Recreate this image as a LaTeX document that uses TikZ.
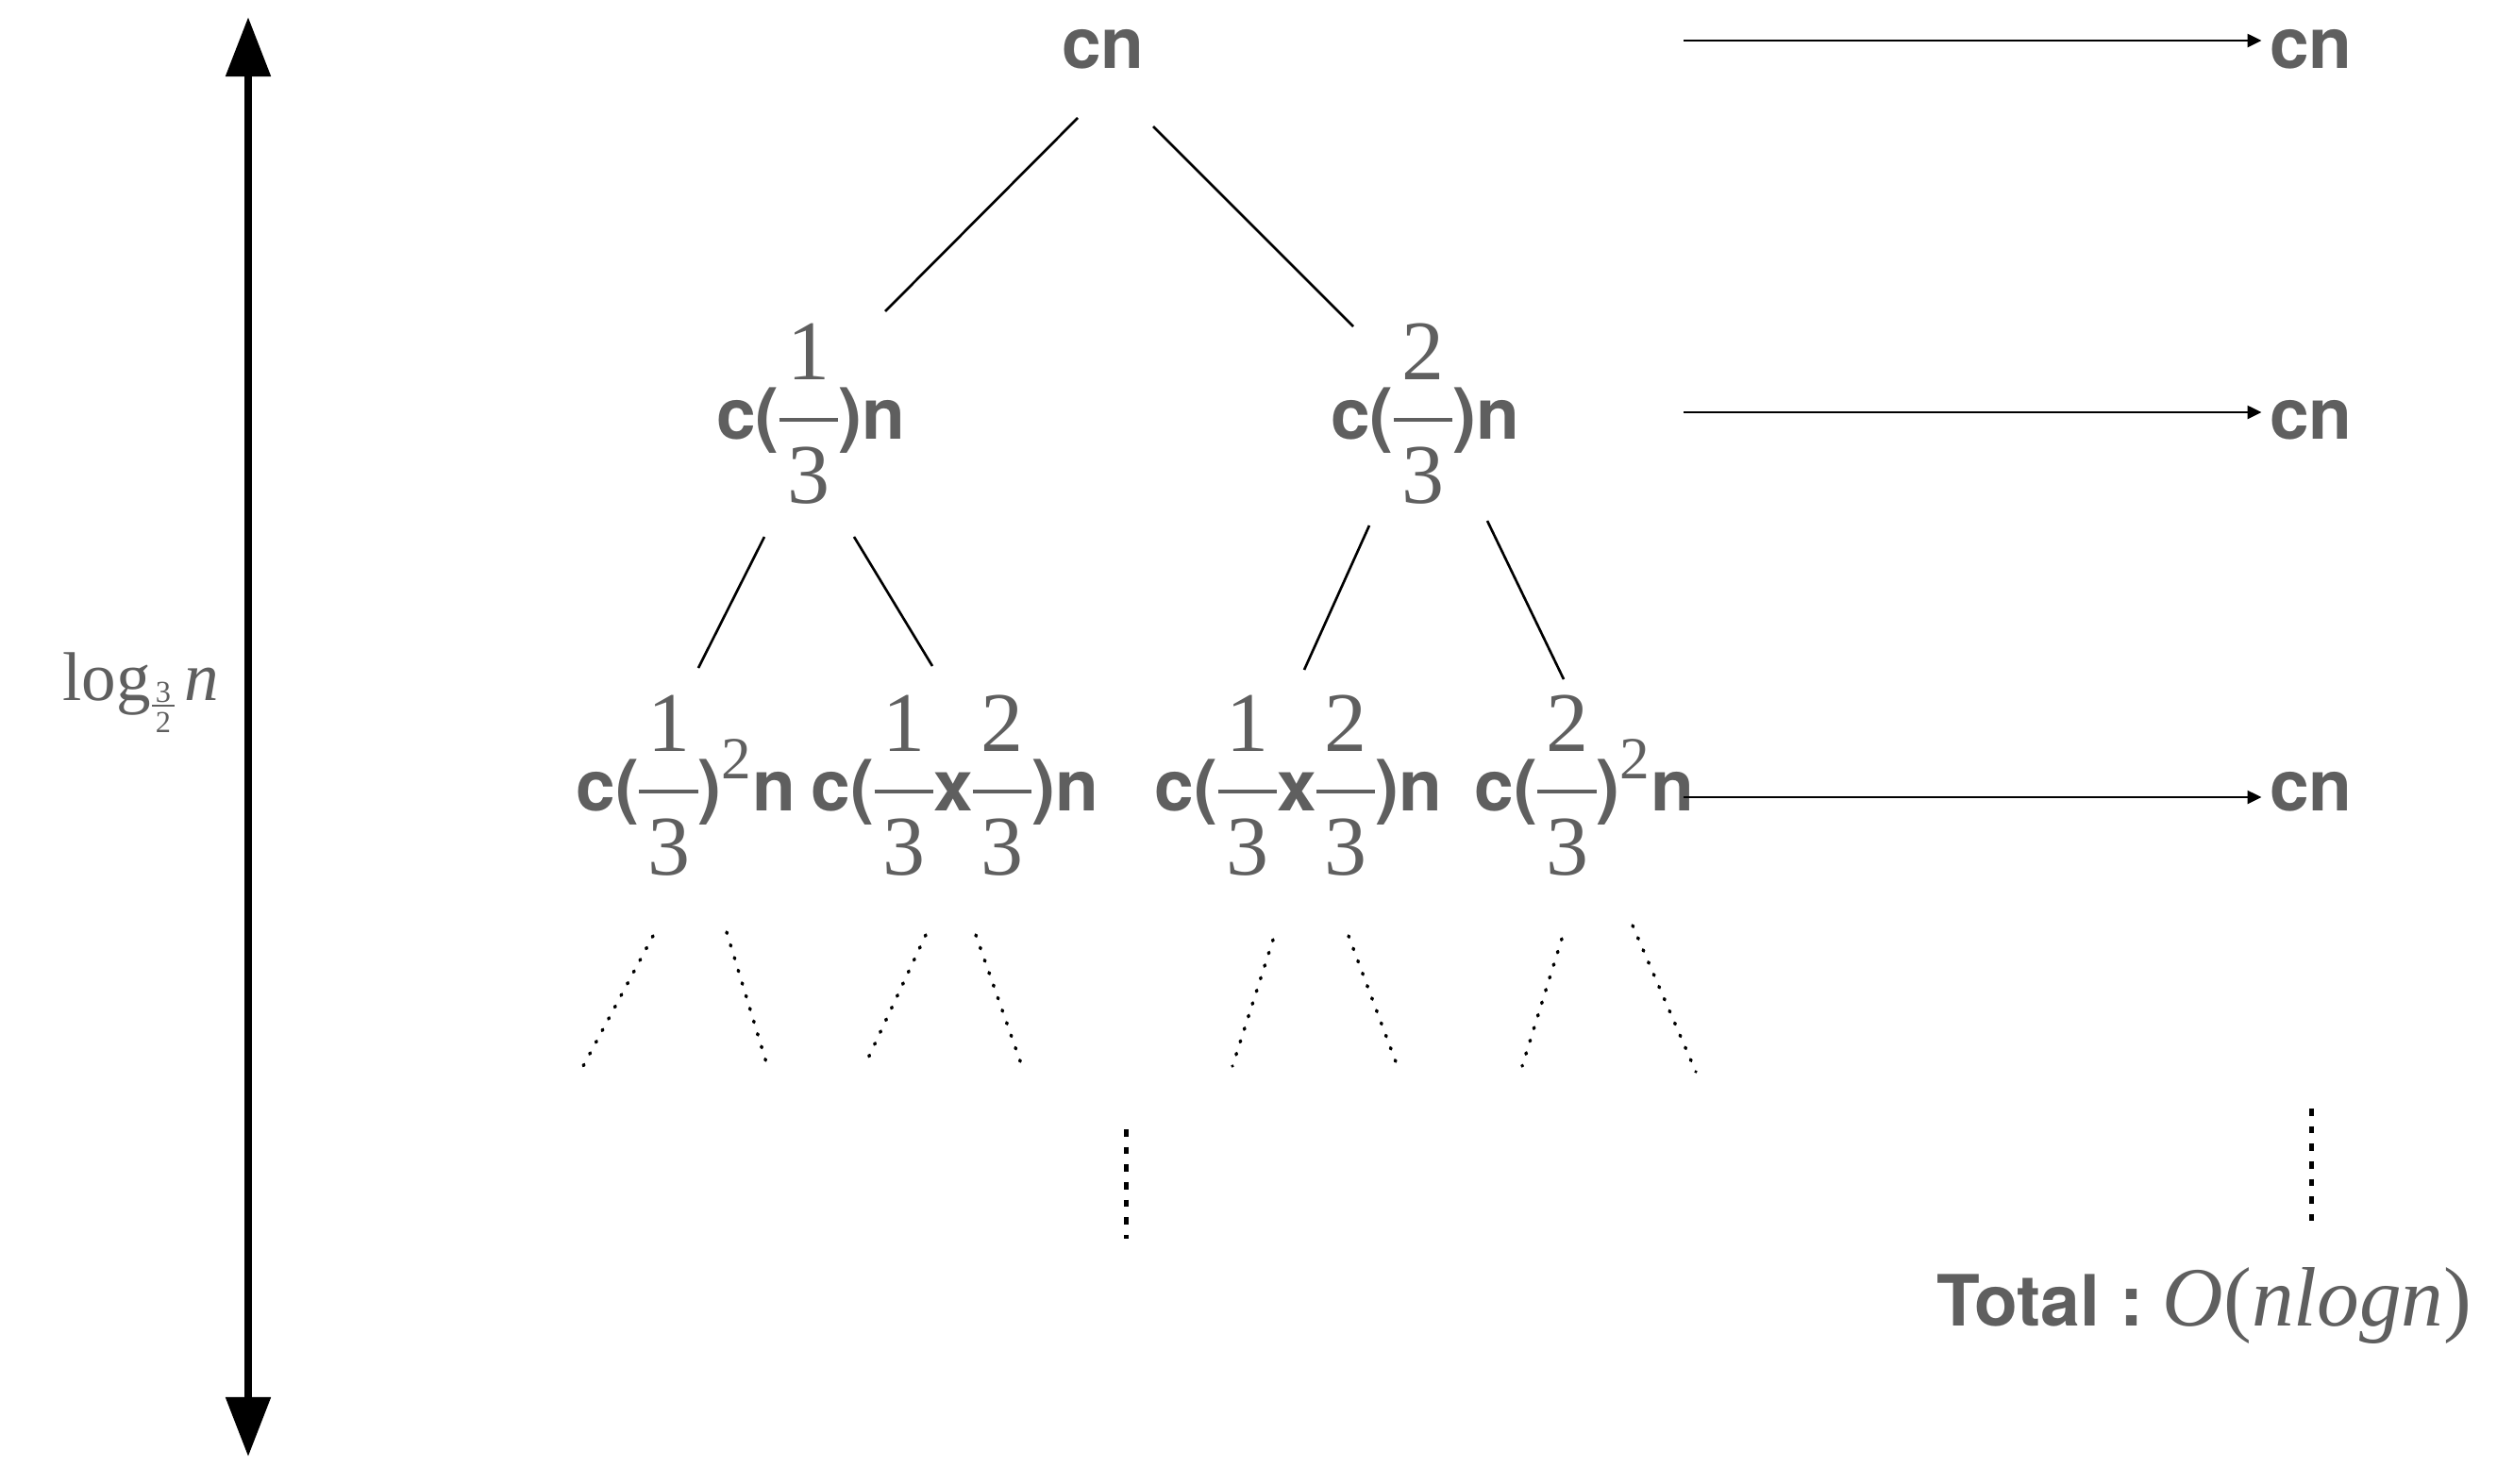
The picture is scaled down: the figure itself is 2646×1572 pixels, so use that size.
\documentclass[tikz,border=0pt]{standalone}
\usepackage{fontspec}
\usetikzlibrary{arrows.meta}
\newfontfamily\hv{TeX Gyre Heros}
\newfontfamily\tm{Liberation Serif}
\newcommand\rmd{\tm\mdseries\upshape}
\definecolor{tg}{HTML}{5F5F5F}
% large fraction (serif digits)
\newcommand\bigfr[2]{\raisebox{-19.35pt}{\fontsize{25.6}{28}\selectfont\rmd\vbox{\offinterlineskip\halign{\kern2.5pt\hfil##\hfil\kern2.5pt\cr #1\cr\noalign{\kern11.4pt\hrule height1.4pt\kern7.4pt}#2\cr}}}}
% small subscript fraction
\newcommand\smfr[2]{\raisebox{-9.67pt}{\fontsize{9.2}{9.5}\selectfont\rmd\vbox{\offinterlineskip\halign{\kern1pt\hfil##\hfil\kern1pt\cr #1\cr\noalign{\kern0.7pt\hrule height0.45pt\kern1.7pt}#2\cr}}}}
\newcommand\sqtwo{\raisebox{9.4pt}{\fontsize{18}{18}\selectfont\rmd 2}\kern0.3pt}
\begin{document}
\begin{tikzpicture}[x=0.01cm,y=-0.01cm,
  lbl/.style={text=tg, inner sep=0pt, anchor=base, font=\hv\bfseries\fontsize{21.3}{24}\selectfont},
  treeedge/.style={draw=black, line width=0.75pt},
  dotedge/.style={draw=black, line width=1pt, line cap=round, dash pattern=on 0.4pt off 3.6pt},
  vdash/.style={draw=black, line width=1.42pt, dash pattern=on 2.2pt off 3.1pt},
  rarr/.style={draw=black, line width=0.7pt, -{Triangle[length=0.15cm,width=0.14cm]}, shorten >=2.3pt},
  varr/.style={draw=black, line width=2.4pt, {Triangle[length=0.63cm,width=0.46cm]}-{Triangle[length=0.63cm,width=0.46cm]}}
]
\useasboundingbox (0,0) rectangle (2646,1572);

% tree nodes
\node[lbl] (root) at (1169,72) {cn};
\node[lbl] (l1) at (859,465) {c(\bigfr{1}{3})n};
\node[lbl] (r1) at (1510,465) {c(\bigfr{2}{3})n};
\node[lbl] (na) at (727,859) {c(\bigfr{1}{3})\sqtwo n};
\node[lbl] (nb) at (1012,859) {c(\bigfr{1}{3}x\bigfr{2}{3})n};
\node[lbl] (nc) at (1376,859) {c(\bigfr{1}{3}x\bigfr{2}{3})n};
\node[lbl] (nd) at (1679,859) {c(\bigfr{2}{3})\sqtwo n};

% right column
\node[lbl] (r0c) at (2449,72) {cn};
\node[lbl] (r1c) at (2449,465) {cn};
\node[lbl] (r2c) at (2449,859) {cn};

% total
\node[lbl, anchor=base east] (total) at (2620,1405) {Total :\ {\tm\mdseries\itshape\fontsize{25.4}{28}\selectfont O{\upshape(}nlogn{\upshape)}}};

% height label
\node[text=tg, inner sep=0pt, anchor=base] (lg) at (149,742) {\fontsize{20.8}{22}\selectfont\rmd log\kern0.5pt\smfr{3}{2}\kern3pt{\itshape n}};

% edge end coordinates
\coordinate (e1a) at (1142,125); \coordinate (e1b) at (938,330);
\coordinate (e2a) at (1222,134); \coordinate (e2b) at (1434,346);
\coordinate (e3a) at (810,569);  \coordinate (e3b) at (740,708);
\coordinate (e4a) at (905,569);  \coordinate (e4b) at (988,706);
\coordinate (e5a) at (1451,557); \coordinate (e5b) at (1382,710);
\coordinate (e6a) at (1576,552); \coordinate (e6b) at (1657,720);
\draw[treeedge] (e1a) -- (e1b);
\draw[treeedge] (e2a) -- (e2b);
\draw[treeedge] (e3a) -- (e3b);
\draw[treeedge] (e4a) -- (e4b);
\draw[treeedge] (e5a) -- (e5b);
\draw[treeedge] (e6a) -- (e6b);

% dotted continuation
\coordinate (d1a) at (692,992);  \coordinate (d1b) at (618,1130);
\coordinate (d2a) at (770,988);  \coordinate (d2b) at (815,1136);
\coordinate (d3a) at (981,991);  \coordinate (d3b) at (916,1130);
\coordinate (d4a) at (1034,991); \coordinate (d4b) at (1085,1136);
\coordinate (d5a) at (1349,996); \coordinate (d5b) at (1306,1130);
\coordinate (d6a) at (1429,992); \coordinate (d6b) at (1483,1136);
\coordinate (d7a) at (1655,995); \coordinate (d7b) at (1613,1130);
\coordinate (d8a) at (1730,981); \coordinate (d8b) at (1797,1136);
\foreach \i in {1,...,8} {\draw[dotedge] (d\i a) -- (d\i b);}

% vertical dashed ellipses
\coordinate (m1) at (1193,1197); \coordinate (m2) at (1193,1313);
\coordinate (q1) at (2449,1175); \coordinate (q2) at (2449,1294);
\draw[vdash] (m1) -- (m2);
\draw[vdash] (q1) -- (q2);

% right arrows
\coordinate (s0) at (1784,43);
\coordinate (s1) at (1784,437);
\coordinate (s2) at (1784,845);
\draw[rarr] (s0) -- (s0 -| r0c.west);
\draw[rarr] (s1) -- (s1 -| r1c.west);
\draw[rarr] (s2) -- (s2 -| r2c.west);

% height arrow
\coordinate (vt) at (263,18);
\coordinate (vb) at (263,1544);
\draw[varr] (vt) -- (vb);
\end{tikzpicture}
\end{document}
